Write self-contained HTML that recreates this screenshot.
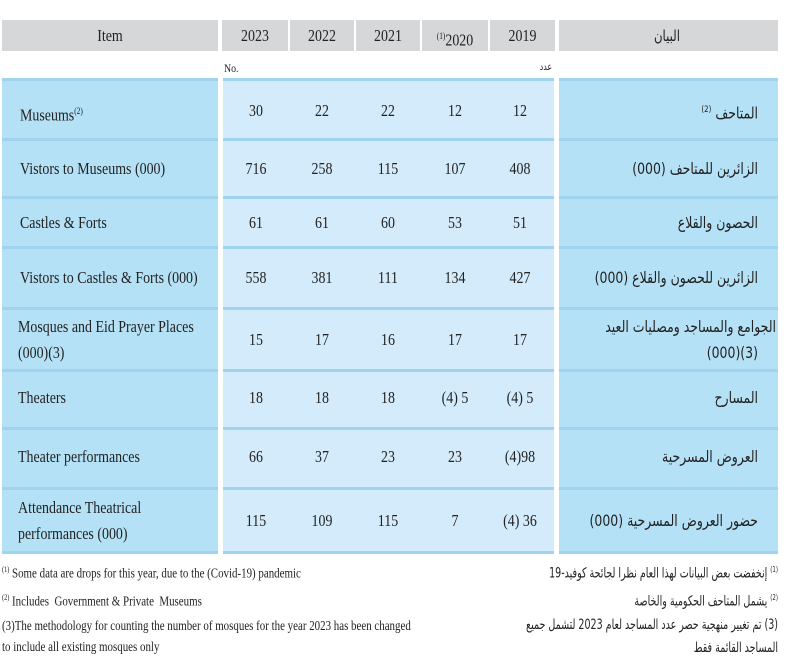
<!DOCTYPE html>
<html><head><meta charset="utf-8"><style>
body{margin:0;width:800px;height:663px;background:#fff;position:relative;overflow:hidden;font-family:"Liberation Serif","Noto Serif CJK SC",serif;color:#222}
.b{position:absolute}
.t{position:absolute;white-space:nowrap;font-size:17px;transform:scaleX(.82);line-height:20px}
.c{transform-origin:center}
.l{transform-origin:left}
.a{position:absolute;white-space:nowrap;direction:rtl;text-align:right;font-family:"DejaVu Sans",sans-serif;font-size:16px;line-height:20px;transform:scaleX(.78);transform-origin:right}
.f{font-size:14px;transform:scaleX(.68)}
.hl{position:absolute;height:3px;background:#9fd3ee}
</style></head><body>
<div class="b" style="left:2px;top:20px;width:216px;height:31px;background:#d6d7d9"></div>
<div class="b" style="left:222px;top:20px;width:66px;height:31px;background:#d6d7d9"></div>
<div class="b" style="left:290px;top:20px;width:64px;height:31px;background:#d6d7d9"></div>
<div class="b" style="left:356px;top:20px;width:64px;height:31px;background:#d6d7d9"></div>
<div class="b" style="left:422px;top:20px;width:66px;height:31px;background:#d6d7d9"></div>
<div class="b" style="left:490px;top:20px;width:65px;height:31px;background:#d6d7d9"></div>
<div class="b" style="left:559px;top:20px;width:219px;height:31px;background:#d6d7d9"></div>
<div class="t c" style="left:60px;width:100px;text-align:center;top:26px">Item</div>
<div class="t c" style="left:222px;width:66px;text-align:center;top:26px">2023</div>
<div class="t c" style="left:290px;width:64px;text-align:center;top:26px">2022</div>
<div class="t c" style="left:356px;width:64px;text-align:center;top:26px">2021</div>
<div class="t c" style="left:422px;width:66px;text-align:center;top:26px"><sup style="font-size:9px">(1)</sup>2020</div>
<div class="t c" style="left:490px;width:65px;text-align:center;top:26px">2019</div>
<div class="a" style="left:600px;width:80px;top:26px;font-size:15px">البيان</div>
<div class="t l" style="left:224px;top:58px;font-size:12px">No.</div>
<div class="a" style="left:500px;width:52px;top:58px;font-size:10px">عدد</div>

<div class="b" style="left:2px;top:79px;width:216px;height:474px;background:#b5e1f6"></div>
<div class="b" style="left:223px;top:79px;width:331px;height:474px;background:#d3ebfa"></div>
<div class="b" style="left:559px;top:79px;width:219px;height:474px;background:#b5e1f6"></div>
<div id="lines"></div>

<div class="t l" style="left:20px;top:101px">Museums<sup style="font-size:9px">(2)</sup></div>
<div class="t l" style="left:20px;top:159px">Vistors to Museums (000)</div>
<div class="t l" style="left:20px;top:213px">Castles &amp; Forts</div>
<div class="t l" style="left:20px;top:268px">Vistors to Castles &amp; Forts (000)</div>
<div class="t l" style="left:18px;top:317px">Mosques and Eid Prayer Places</div>
<div class="t l" style="left:18px;top:343px">(000)(3)</div>
<div class="t l" style="left:18px;top:388px">Theaters</div>
<div class="t l" style="left:18px;top:447px">Theater performances</div>
<div class="t l" style="left:18px;top:498px">Attendance Theatrical</div>
<div class="t l" style="left:18px;top:524px">performances (000)</div>

<div class="a" style="left:560px;width:198px;top:100px">المتاحف <sup style="font-size:9px">(2)</sup></div>
<div class="a" style="left:560px;width:198px;top:159px">الزائرين للمتاحف (000)</div>
<div class="a" style="left:560px;width:198px;top:213px">الحصون والقلاع</div>
<div class="a" style="left:560px;width:198px;top:268px">الزائرين للحصون والقلاع (000)</div>
<div class="a" style="left:560px;width:216px;top:317px">الجوامع والمساجد ومصليات العيد</div>
<div class="a" style="left:560px;width:198px;top:343px">(3)(000)</div>
<div class="a" style="left:560px;width:198px;top:388px">المسارح</div>
<div class="a" style="left:560px;width:198px;top:447px">العروض المسرحية</div>
<div class="a" style="left:560px;width:198px;top:511px">حضور العروض المسرحية (000)</div>

<div id="nums"></div>
<script>
var rows=[[101,'30','22','22','12','12'],[159,'716','258','115','107','408'],[213,'61','61','60','53','51'],[268,'558','381','111','134','427'],[330,'15','17','16','17','17'],[388,'18','18','18','(4) 5','(4) 5'],[447,'66','37','23','23','(4)98'],[511,'115','109','115','7','(4) 36']];
var cx=[256,322,388,455,520],h='';
rows.forEach(function(r){for(var i=0;i<5;i++)h+='<div class="t c" style="left:'+(cx[i]-40)+'px;width:80px;text-align:center;top:'+r[0]+'px">'+r[i+1]+'</div>';});
document.getElementById('nums').innerHTML=h;
var ys=[78,138,196,246,307,369,427,487,551],L='';
ys.forEach(function(y){L+='<div class="hl" style="left:2px;width:216px;top:'+y+'px"></div><div class="hl" style="left:223px;width:331px;top:'+y+'px"></div><div class="hl" style="left:559px;width:219px;top:'+y+'px"></div>';});
document.getElementById('lines').innerHTML=L;
</script>

<div class="t l" style="left:2px;top:560px;font-size:14px;transform:scaleX(.78)"><sup style="font-size:8px">(1)</sup> Some data are drops for this year, due to the (Covid-19) pandemic</div>
<div class="t l" style="left:2px;top:588px;font-size:14px;transform:scaleX(.78)"><sup style="font-size:8px">(2)</sup> Includes&nbsp; Government &amp; Private&nbsp; Museums</div>
<div class="t l" style="left:2px;top:617px;font-size:14px;transform:scaleX(.78)">(3)The methodology for counting the number of mosques for the year 2023 has been changed</div>
<div class="t l" style="left:2px;top:638px;font-size:14px;transform:scaleX(.78)">to include all existing mosques only</div>
<div class="a f" style="left:380px;width:398px;top:560px"><sup style="font-size:8px">(1)</sup> إنخفضت بعض البيانات لهذا العام نظرا لجائحة كوفيد-19</div>
<div class="a f" style="left:380px;width:398px;top:588px"><sup style="font-size:8px">(2)</sup> يشمل المتاحف الحكومية والخاصة</div>
<div class="a f" style="left:380px;width:398px;top:615px">(3) تم تغيير منهجية حصر عدد المساجد لعام 2023 لتشمل جميع</div>
<div class="a f" style="left:380px;width:398px;top:638px">المساجد القائمة فقط</div>
</body></html>
